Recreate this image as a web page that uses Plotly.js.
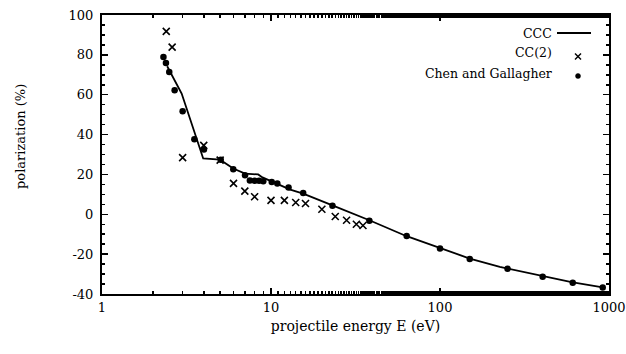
<!DOCTYPE html>
<html>
<head>
<meta charset="utf-8">
<script src="https://cdn.plot.ly/plotly-3.0.1.min.js"></script>
<style>
  html, body { margin: 0; padding: 0; background: #fff; }
  #chart { width: 626px; height: 354px; }
</style>
</head>
<body>
<div id="chart"></div>
<script>
// CCC calculation (solid line)
const cccEnergy = [2.43, 2.96, 3.97, 4.99, 5.98, 7.02, 8.4, 8.9, 13, 15.5, 23.1, 38.2, 63.5, 100, 150, 226, 405, 600, 900];
const cccPol    = [74.3, 60.6, 28.0, 27.4, 23.0, 20.4, 20.0, 18.5, 12.4, 10.4, 4.5, -3.0, -11.0, -16.9, -22.2, -26.4, -31.1, -34.0, -36.5];

// CC(2) calculation (crosses)
const cc2Energy = [2.4, 2.6, 3, 4, 5, 6, 7, 8, 10, 12, 14, 16, 20, 24, 28, 32, 35];
const cc2Pol    = [91.8, 83.9, 28.4, 34.6, 27.2, 15.5, 11.6, 8.8, 7.0, 7.0, 5.9, 5.4, 2.5, -1.1, -3.0, -5.0, -5.6];

// Chen and Gallagher measurements (dots)
const expEnergy = [2.31, 2.39, 2.5, 2.69, 3.0, 3.52, 4.01, 5.04, 5.98, 7.02, 7.5, 8.0, 8.5, 9.0, 10.1, 10.9, 12.7, 15.5, 23.1, 38.2, 63.5, 100, 150, 251, 405, 610, 918];
const expPol    = [78.9, 75.9, 71.4, 62.2, 51.7, 37.6, 32.5, 27.4, 22.6, 19.6, 17.0, 16.8, 16.8, 16.6, 16.2, 15.4, 13.4, 10.7, 4.3, -3.3, -10.9, -17.2, -22.4, -27.3, -31.4, -34.3, -36.8];

// Axis ticks
const xTickVals = [1, 10, 100, 1000];
const xTickText = ['1', '10', '100', '1000'];
const yTickVals = [-40, -20, 0, 20, 40, 60, 80, 100];
const yTickText = ['-40', '-20', '0', '20', '40', '60', '80', '100'];

// Titles and legend labels
const xTitle = 'projectile energy E (eV)';
const yTitle = 'polarization (%)';
const seriesNames = ['CCC', 'CC(2)', 'Chen and Gallagher'];

const FONT = "'DejaVu Serif', 'Liberation Serif', serif";
const FS = 13;

const traces = [
  {
    x: cccEnergy, y: cccPol, type: 'scatter', mode: 'lines', name: seriesNames[0],
    line: { color: '#000', width: 1.8 }
  },
  {
    x: cc2Energy, y: cc2Pol, type: 'scatter', mode: 'markers', name: seriesNames[1],
    marker: { symbol: 'x-thin', size: 7, color: '#000', line: { color: '#000', width: 1.6 } }
  },
  {
    x: expEnergy, y: expPol, type: 'scatter', mode: 'markers', name: seriesNames[2],
    marker: { symbol: 'circle', size: 6.5, color: '#000' }
  }
];

// Plot area in pixels, for placing the hand-drawn legend and y title
const W = 626, H = 354;
const M = { l: 102, r: 17, t: 15, b: 60 };
const pw = W - M.l - M.r, ph = H - M.t - M.b;
const px = v => (v - M.l) / pw;
const py = v => (H - M.b - v) / ph;

const legendRows = [33, 53, 73];
const textRight = 554;
const symX = 578;

const annotations = seriesNames.map((n, i) => ({
  xref: 'paper', yref: 'paper', x: px(textRight), y: py(legendRows[i]),
  xanchor: 'right', yanchor: 'middle', text: n, showarrow: false,
  font: { family: FONT, size: 12.5, color: '#000' }
}));

// vertical axis title
annotations.push({
  xref: 'paper', yref: 'paper', x: px(20), y: py(137),
  xanchor: 'center', yanchor: 'middle', textangle: -90, text: yTitle, showarrow: false,
  font: { family: FONT, size: FS, color: '#000' }
});

const shapes = [
  // line sample
  { type: 'line', xref: 'paper', yref: 'paper', x0: px(557), x1: px(591), y0: py(33), y1: py(33),
    line: { color: '#000', width: 1.8 } },
  // cross sample
  { type: 'line', xref: 'paper', yref: 'paper', x0: px(symX - 3), x1: px(symX + 3), y0: py(53.5), y1: py(59.5),
    line: { color: '#000', width: 1.4 } },
  { type: 'line', xref: 'paper', yref: 'paper', x0: px(symX - 3), x1: px(symX + 3), y0: py(59.5), y1: py(53.5),
    line: { color: '#000', width: 1.4 } },
  // dot sample
  { type: 'circle', xref: 'paper', yref: 'paper', x0: px(symX - 2.5), x1: px(symX + 2.5), y0: py(73.5), y1: py(78.5),
    fillcolor: '#000', line: { color: '#000', width: 0.5 } }
];

const layout = {
  width: W, height: H,
  margin: M,
  paper_bgcolor: '#fff', plot_bgcolor: '#fff',
  showlegend: false,
  font: { family: FONT, size: FS, color: '#000' },
  xaxis: {
    type: 'log', range: [0, 3],
    tickvals: xTickVals, ticktext: xTickText,
    ticks: 'inside', ticklen: 6, tickwidth: 1.5, tickcolor: '#000',
    minor: { ticks: 'inside', ticklen: 3, tickwidth: 1.5, tickcolor: '#000', showgrid: false },
    showline: true, linecolor: '#000', linewidth: 2, mirror: 'ticks',
    showgrid: false, zeroline: false,
    tickfont: { family: FONT, size: FS },
    title: { text: xTitle, font: { family: FONT, size: 14 }, standoff: 8 }
  },
  yaxis: {
    range: [-40, 100],
    tickvals: yTickVals, ticktext: yTickText,
    ticks: 'inside', ticklen: 6, tickwidth: 1.5, tickcolor: '#000',
    minor: { dtick: 5, ticks: 'inside', ticklen: 3, tickwidth: 1.5, tickcolor: '#000', showgrid: false },
    showline: true, linecolor: '#000', linewidth: 2, mirror: 'ticks',
    showgrid: false, zeroline: false,
    tickfont: { family: FONT, size: FS },
    ticklabelstandoff: 4
  },
  annotations: annotations,
  shapes: shapes
};

Plotly.newPlot('chart', traces, layout, { displayModeBar: false, staticPlot: true });
</script>
</body>
</html>
